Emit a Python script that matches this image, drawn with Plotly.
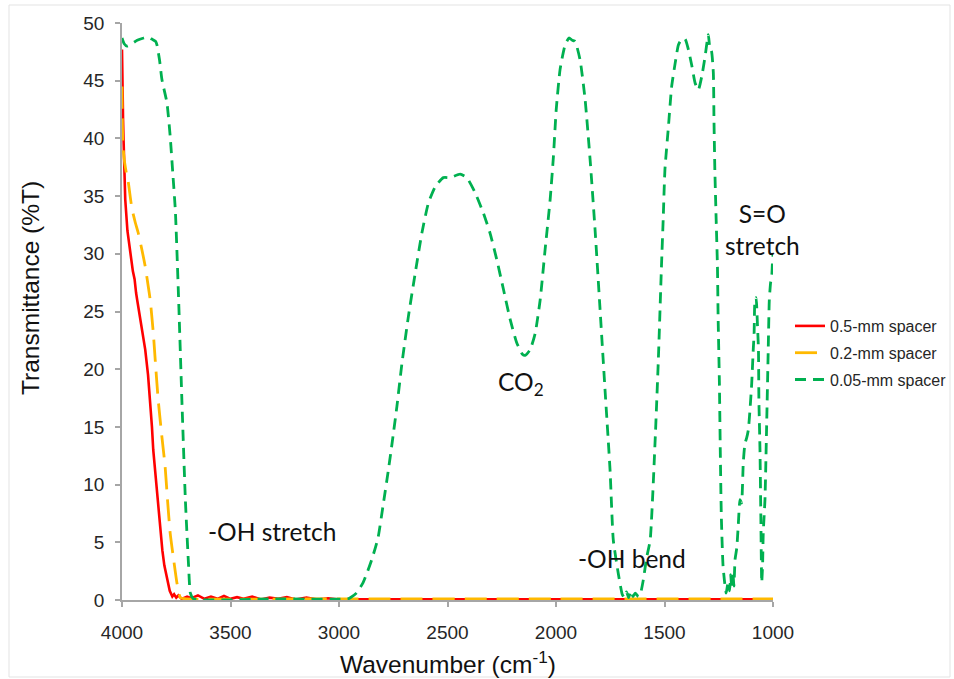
import plotly.graph_objects as go

# ---- FTIR transmittance spectra of water recorded with three spacer thicknesses ----

# 0.5-mm spacer
wn_05 = [4000, 3999, 3995, 3993, 3988, 3985, 3975, 3962, 3950, 3942, 3939, 3935, 3930,
         3912, 3893, 3880, 3870, 3862, 3856, 3846, 3837, 3826, 3814, 3805, 3798, 3791,
         3780, 3768, 3760, 3750, 3740, 3725, 3700, 3680, 3650, 3620, 3590, 3560, 3530,
         3500, 3470, 3440, 3400, 3360, 3320, 3280, 3240, 3200, 3150, 3100, 3050, 3000,
         2900, 2500, 2000, 1500, 1000]
t_05 = [47.7, 45.0, 41.5, 40.0, 36.0, 34.7, 32.0, 30.1, 28.5, 27.8, 26.9, 26.6, 26.0,
        23.8, 21.7, 19.5, 17.3, 15.0, 13.0, 10.8, 8.7, 6.5, 4.3, 3.0, 2.4, 1.5,
        0.8, 0.3, 0.5, 0.2, 0.4, 0.1, 0.3, 0.15, 0.4, 0.1, 0.3, 0.1, 0.35,
        0.1, 0.25, 0.1, 0.3, 0.05, 0.2, 0.1, 0.25, 0.05, 0.2, 0.05, 0.15, 0.05,
        0.05, 0.05, 0.05, 0.05, 0.05]

# 0.2-mm spacer
wn_02 = [4000, 3999, 3996, 3990, 3980, 3971, 3961, 3954, 3940, 3925, 3910, 3893, 3880,
         3870, 3856, 3845, 3833, 3817, 3801, 3790, 3778, 3762, 3747, 3731, 3700, 3000,
         2000, 1000]
t_02 = [44.5, 42.0, 39.5, 38.2, 37.0, 36.2, 34.8, 33.9, 32.8, 31.8, 30.5, 28.9, 27.3,
        26.0, 23.2, 20.3, 17.3, 14.3, 11.5, 8.6, 5.8, 3.5, 1.5, 0.2, 0.1, 0.1,
        0.1, 0.1]

# 0.05-mm spacer
wn_005 = [4000, 3990, 3977, 3955, 3930, 3900, 3878, 3862, 3845, 3839, 3827, 3816, 3793,
          3778, 3766, 3754, 3739, 3724, 3708, 3693, 3685, 3670, 3300, 2960, 2948, 2920,
          2889, 2849, 2820, 2796, 2773, 2756, 2733, 2710, 2680, 2649, 2618, 2588, 2557,
          2519, 2488, 2442, 2411, 2373, 2334, 2304, 2273, 2242, 2211, 2181, 2155, 2142,
          2119, 2096, 2073, 2050, 2027, 2012, 1999, 1981, 1958, 1940, 1925, 1912, 1889,
          1866, 1843, 1820, 1797, 1774, 1751, 1736, 1713, 1695, 1685, 1675, 1665, 1655,
          1645, 1635, 1620, 1610, 1598, 1582, 1566, 1543, 1528, 1514, 1506, 1498, 1482,
          1467, 1451, 1436, 1421, 1405, 1390, 1374, 1359, 1344, 1328, 1313, 1298, 1290,
          1284, 1275, 1272, 1268, 1262, 1256, 1253, 1247, 1243, 1238, 1230, 1216, 1207,
          1200, 1195, 1190, 1185, 1180, 1175, 1167, 1160, 1152, 1145, 1137, 1129, 1122,
          1114, 1106, 1098, 1091, 1087, 1083, 1078, 1072, 1067, 1065, 1060, 1056, 1052,
          1048, 1045, 1037, 1030, 1022, 1017, 1011, 1006, 1002, 1000]
t_005 = [48.7, 48.2, 48.0, 48.2, 48.5, 48.7, 48.8, 48.6, 48.4, 48.1, 46.8, 45.1, 43.1,
         40.2, 37.0, 33.7, 26.0, 17.3, 8.7, 2.9, 0.6, 0.1, 0.1, 0.1, 0.2, 0.6,
         1.5, 3.5, 5.4, 8.3, 11.2, 13.5, 16.8, 20.5, 24.6, 28.3, 31.8, 34.4, 35.8,
         36.6, 36.6, 36.9, 36.6, 35.3, 33.5, 31.8, 29.5, 26.9, 24.3, 22.3, 21.3, 21.2,
         21.7, 23.1, 26.0, 30.4, 34.7, 38.4, 42.5, 46.0, 48.1, 48.7, 48.5, 48.4, 46.8,
         43.4, 38.2, 32.1, 25.2, 18.2, 11.3, 5.2, 2.3, 0.5, 0.2, 0.7, 0.2, 0.8,
         0.3, 0.6, 0.3, 0.6, 1.7, 3.7, 5.2, 13.9, 21.0, 28.9, 33.0, 37.3, 41.0,
         44.5, 46.5, 48.1, 48.6, 48.6, 47.7, 46.3, 44.8, 44.2, 45.4, 47.1, 49.0, 47.7,
         47.6, 45.7, 41.6, 37.3, 33.0, 28.9, 24.6, 18.8, 13.0, 7.2, 2.9, 0.6, 1.5,
         0.8, 2.2, 1.0, 2.4, 1.2, 3.5, 4.5, 6.5, 8.7, 8.4, 11.9, 13.6, 14.0,
         14.7, 16.5, 18.8, 21.7, 23.1, 26.0, 26.2, 24.0, 21.7, 17.3, 13.0, 7.2, 1.5,
         3.0, 5.8, 8.7, 14.5, 21.7, 26.0, 27.5, 28.0, 29.5, 30.0]

series_names = ["0.5-mm spacer", "0.2-mm spacer", "0.05-mm spacer"]
x_ticks = [4000, 3500, 3000, 2500, 2000, 1500, 1000]
y_ticks = [0, 5, 10, 15, 20, 25, 30, 35, 40, 45, 50]

# ---- figure geometry (pixels) ----
W, H = 954, 679
ML, MR, MT, MB = 122, 181, 23, 79
PW, PH = W - ML - MR, H - MT - MB


def px_x(p):
    """pixel column -> paper x"""
    return (p - ML) / PW


def px_y(p):
    """pixel row -> paper y"""
    return (H - MB - p) / PH


fig = go.Figure()
fig.add_trace(go.Scatter(x=wn_05, y=t_05, name=series_names[0], mode="lines",
                         legendgroup="a",
                         line=dict(color="#FF0000", width=2.6)))
fig.add_trace(go.Scatter(x=wn_02, y=t_02, name=series_names[1], mode="lines",
                         legendgroup="b",
                         line=dict(color="#FFB900", width=2.8, dash="22px,10px",
                                   shape="spline", smoothing=0.5)))
fig.add_trace(go.Scatter(x=wn_005, y=t_005, name=series_names[2], mode="lines",
                         legendgroup="c",
                         line=dict(color="#00B050", width=2.8, dash="11px,7px",
                                   shape="spline", smoothing=0.5)))

tick_font = dict(family="Liberation Sans, Arial, sans-serif", size=19, color="#262626")
axis_common = dict(showgrid=False, zeroline=False, showline=True, linecolor="#A6A6A6",
                   linewidth=1.5, ticks="outside", ticklen=5, tickcolor="#A6A6A6",
                   tickwidth=1.5, tickfont=tick_font)

fig.update_xaxes(range=[4000, 1000], tickvals=x_ticks, ticklabelstandoff=9,
                 **axis_common)
fig.update_yaxes(range=[0, 50], tickvals=y_ticks, ticklabelstandoff=7, **axis_common)

label_font = dict(family="Lato, sans-serif", size=24.5, color="#111111")
title_font = dict(family="Liberation Sans, Arial, sans-serif", size=24.5, color="#111111")

annotations = [
    dict(text="Transmittance (%T)", x=px_x(30), y=px_y(288), textangle=-90,
         font=title_font),
    dict(text="Wavenumber (cm<sup>-1</sup>)", x=px_x(448), y=px_y(662), font=title_font),
    dict(text="-OH stretch", x=px_x(272), y=px_y(531), font=label_font),
    dict(text="CO<sub>2</sub>", x=px_x(521), y=px_y(383), font=label_font),
    dict(text="-OH bend", x=px_x(632), y=px_y(558), font=label_font),
    dict(text="S=O<br>stretch", x=px_x(762), y=px_y(229), font=label_font),
]
for a in annotations:
    a.update(xref="paper", yref="paper", showarrow=False, xanchor="center",
             yanchor="middle")

fig.update_layout(
    width=W, height=H,
    margin=dict(l=ML, r=MR, t=MT, b=MB, pad=0, autoexpand=False),
    paper_bgcolor="white", plot_bgcolor="white",
    annotations=annotations,
    showlegend=True,
    legend=dict(x=px_x(790), y=px_y(309), xanchor="left", yanchor="top",
                font=dict(family="Liberation Sans, Arial, sans-serif", size=16,
                          color="#262626"),
                bgcolor="rgba(0,0,0,0)", borderwidth=0, tracegroupgap=3,
                itemwidth=30),
    shapes=[dict(type="rect", xref="paper", yref="paper",
                 x0=px_x(9), x1=px_x(950), y0=px_y(677), y1=px_y(5),
                 line=dict(color="#E3E3E3", width=1))],
)

fig.write_html("out.html")
